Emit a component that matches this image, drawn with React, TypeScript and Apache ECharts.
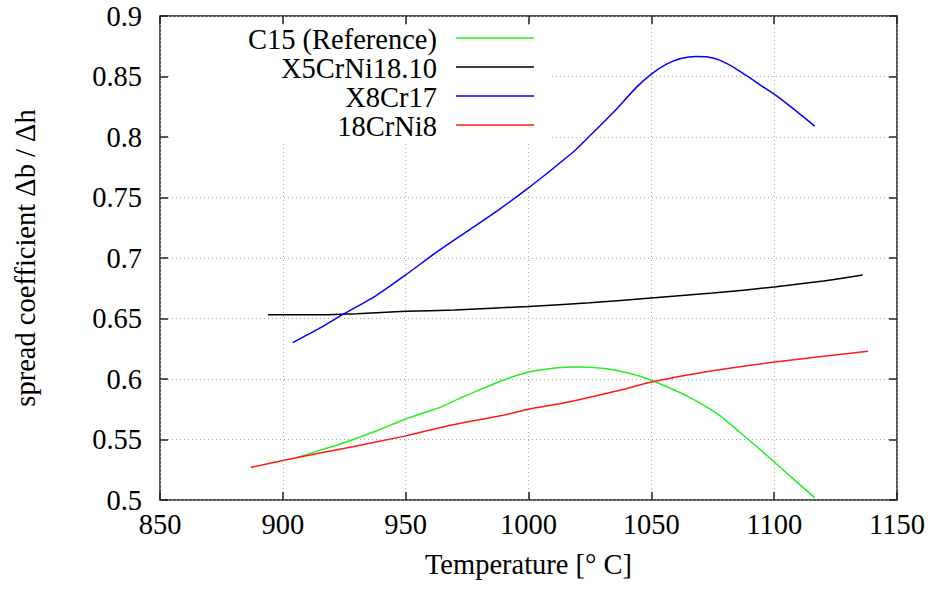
import React, { useEffect, useRef } from "react";
import * as echarts from "echarts";

const seriesNames = ["C15 (Reference)", "X5CrNi18.10", "X8Cr17", "18CrNi8"];
const seriesColors = ["#22ee22", "#000000", "#0000ff", "#ff1a1a"];

const c15Temp = [905.5, 915, 925.8, 938, 950, 964.5, 972, 980, 991, 1000.4, 1008.6, 1015, 1020.8, 1030, 1038.4, 1045, 1050, 1057, 1064, 1072, 1079, 1086, 1093, 1100.3, 1108, 1116.5];
const c15Val = [0.535, 0.541, 0.548, 0.557, 0.567, 0.577, 0.584, 0.591, 0.6, 0.606, 0.6085, 0.6097, 0.61, 0.6088, 0.606, 0.6025, 0.599, 0.593, 0.5865, 0.5775, 0.568, 0.556, 0.544, 0.531, 0.517, 0.502];

const x5Temp = [894, 910, 930, 950, 970, 1000, 1025, 1050, 1075, 1100, 1120, 1136];
const x5Val = [0.653, 0.653, 0.654, 0.656, 0.657, 0.66, 0.663, 0.667, 0.671, 0.676, 0.681, 0.686];

const x8Temp = [904, 915, 925, 938, 950, 962, 975, 988, 1000, 1010, 1019, 1025, 1034.4, 1043.9, 1050, 1056, 1062, 1068.3, 1073, 1077.8, 1084, 1090, 1095, 1100.3, 1108, 1116.5];
const x8Val = [0.63, 0.642, 0.654, 0.669, 0.686, 0.704, 0.722, 0.74, 0.758, 0.774, 0.789, 0.801, 0.82, 0.841, 0.852, 0.86, 0.8648, 0.8666, 0.8662, 0.8635, 0.857, 0.849, 0.842, 0.835, 0.823, 0.809];

const crTemp = [887, 905.5, 925.8, 950, 966.5, 989.6, 1000.4, 1013.6, 1025, 1039.8, 1050, 1072.4, 1100.3, 1138.2];
const crVal = [0.527, 0.535, 0.543, 0.553, 0.561, 0.57, 0.5752, 0.58, 0.585, 0.592, 0.5975, 0.606, 0.614, 0.623];

const xTicks = { min: 850, max: 1150, interval: 50 };
const yTicks = { min: 0.5, max: 0.9, interval: 0.05 };

const FONT = "Liberation Serif";
const FS = 28.5;

function zip(a: number[], b: number[]) {
  return a.map((t, i) => [t, b[i]]);
}

export default function App() {
  const ref = useRef<HTMLDivElement>(null);
  useEffect(() => {
    if (!ref.current) return;
    const chart = echarts.init(ref.current, undefined, { renderer: "svg" });
    const dataSets = [zip(c15Temp, c15Val), zip(x5Temp, x5Val), zip(x8Temp, x8Val), zip(crTemp, crVal)];
    const tickCommon = {
      show: true,
      inside: true,
      length: 8,
      lineStyle: { color: "#222", width: 1.5 },
    };
    const splitLine = { show: true, lineStyle: { color: "#aaa", type: [1, 3] as any, width: 1 } };
    const legendGraphics: any[] = [];
    seriesNames.forEach((name, i) => {
      const y = 39 + i * 29;
      legendGraphics.push({
        type: "text",
        z: 10,
        x: 437,
        y,
        style: {
          text: name,
          align: "right",
          verticalAlign: "middle",
          fontFamily: FONT,
          fontSize: FS,
          fill: "#000",
        },
      });
      legendGraphics.push({
        type: "line",
        z: 10,
        shape: { x1: 456, y1: y - 1, x2: 534, y2: y - 1 },
        style: { stroke: seriesColors[i], lineWidth: 1.5 },
      });
    });
    chart.setOption({
      animation: false,
      backgroundColor: "#fff",
      textStyle: { fontFamily: FONT },
      grid: {
        left: 160,
        right: 35,
        top: 16,
        bottom: 89,
        show: true,
        containLabel: false,
        outerBoundsMode: "none",
        borderColor: "#222",
        borderWidth: 1.5,
      },
      xAxis: [
        {
          type: "value",
          min: xTicks.min,
          max: xTicks.max,
          interval: xTicks.interval,
          axisLine: { show: false },
          axisTick: tickCommon,
          splitLine,
          axisLabel: { fontFamily: FONT, fontSize: FS, color: "#000", margin: 10, formatter: (v: number) => String(v) },
          name: "Temperature [° C]",
          nameLocation: "middle",
          nameGap: 50,
          nameTextStyle: { fontFamily: FONT, fontSize: FS, color: "#000" },
        },
        {
          type: "value",
          position: "top",
          min: xTicks.min,
          max: xTicks.max,
          interval: xTicks.interval,
          axisLine: { show: false },
          axisTick: tickCommon,
          splitLine: { show: false },
          axisLabel: { show: false },
        },
      ],
      yAxis: [
        {
          type: "value",
          min: yTicks.min,
          max: yTicks.max,
          interval: yTicks.interval,
          axisLine: { show: false },
          axisTick: tickCommon,
          splitLine,
          axisLabel: { fontFamily: FONT, fontSize: FS, color: "#000", margin: 18, formatter: (v: number) => String(Math.round(v * 100) / 100) },
          name: "spread coefficient Δb / Δh",
          nameLocation: "middle",
          nameGap: 120,
          nameTextStyle: { fontFamily: FONT, fontSize: FS, color: "#000" },
        },
        {
          type: "value",
          position: "right",
          min: yTicks.min,
          max: yTicks.max,
          interval: yTicks.interval,
          axisLine: { show: false },
          axisTick: tickCommon,
          splitLine: { show: false },
          axisLabel: { show: false },
        },
      ],
      graphic: [
        {
          type: "rect",
          z: 1,
          shape: { x: 169, y: 25, width: 383, height: 116 },
          style: { fill: "#fff" },
        },
        ...legendGraphics,
      ],
      series: seriesNames.map((name, i) => ({
        name,
        type: "line",
        z: 5,
        xAxisIndex: 0,
        yAxisIndex: 0,
        showSymbol: false,
        symbol: "none",
        smooth: 0.2,
        data: dataSets[i],
        lineStyle: { color: seriesColors[i], width: 1.5 },
        itemStyle: { color: seriesColors[i] },
      })),
    });
    return () => chart.dispose();
  }, []);
  return <div ref={ref} style={{ width: 932, height: 589, position: "absolute", left: 0, top: 0 }} />;
}
